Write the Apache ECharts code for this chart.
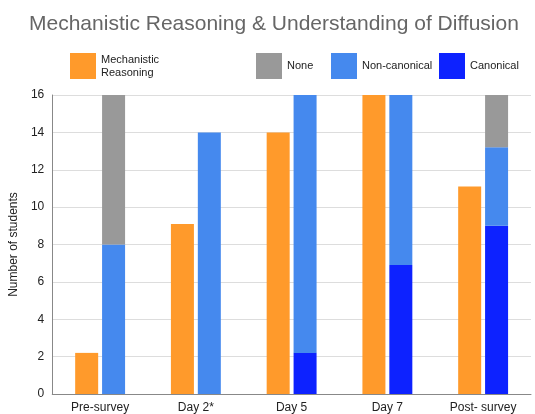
<!DOCTYPE html>
<html>
<head>
<meta charset="utf-8">
<script src="https://cdn.jsdelivr.net/npm/echarts@6/dist/echarts.min.js"></script>
<style>
  html, body { margin: 0; padding: 0; background: #fff; }
  #chart { width: 535px; height: 414px; }
</style>
</head>
<body>
<div id="chart"></div>
<script>
// data
var categories = ['Pre-survey', 'Day 2*', 'Day 5', 'Day 7', 'Post- survey'];
var mechanistic = [2.2, 9.1, 14, 16, 11.1];
var canonical = [0, 0, 2.2, 6.9, 9];
var nonCanonical = [8, 14, 13.8, 9.1, 4.2];
var none = [8, 0, 0, 0, 2.8];
var yTicks = [0, 2, 4, 6, 8, 10, 12, 14, 16];

var colors = {
  mech: '#FF9A2B',
  none: '#999999',
  noncan: '#4589EE',
  can: '#0D22FF'
};

var myChart = echarts.init(document.getElementById('chart'));

// one legend per item, they are not evenly spaced in the original
function legendAt(name, left, label) {
  return {
    data: [name],
    left: left,
    top: 53,
    itemWidth: 26,
    itemHeight: 26,
    icon: 'rect',
    selectedMode: false,
    padding: 0,
    textStyle: { fontFamily: 'Liberation Sans', fontSize: 11, color: '#222', lineHeight: 13 },
    formatter: function () { return label; }
  };
}

myChart.setOption({
  animation: false,
  title: {
    text: 'Mechanistic Reasoning & Understanding of Diffusion',
    left: 24,
    top: 9,
    padding: [5, 5],
    textStyle: { fontFamily: 'Liberation Sans', fontSize: 21, fontWeight: 'normal', color: '#666' }
  },
  legend: [
    legendAt('Mechanistic Reasoning', 70, 'Mechanistic\nReasoning'),
    legendAt('None', 256, 'None'),
    legendAt('Non-canonical', 331, 'Non-canonical'),
    legendAt('Canonical', 439, 'Canonical')
  ],
  grid: { left: 51, right: 4, top: 95, bottom: 19 },
  xAxis: {
    type: 'category',
    data: categories,
    axisLine: { lineStyle: { color: '#888', width: 1 } },
    axisTick: { show: false },
    axisLabel: { fontFamily: 'Liberation Sans', fontSize: 12, color: '#222', margin: 8 }
  },
  yAxis: {
    type: 'value',
    min: yTicks[0],
    max: yTicks[yTicks.length - 1],
    interval: 2,
    name: 'Number of students',
    nameLocation: 'middle',
    nameGap: 30,
    nameTextStyle: { fontFamily: 'Liberation Sans', fontSize: 12, color: '#222' },
    axisLine: { show: true, lineStyle: { color: '#888', width: 1 } },
    axisTick: { show: false },
    axisLabel: { fontFamily: 'Liberation Sans', fontSize: 12, color: '#222', margin: 8 },
    splitLine: { lineStyle: { color: '#ddd', width: 1 } }
  },
  series: [
    {
      name: 'Mechanistic Reasoning', type: 'bar', stack: 'm',
      barWidth: 23, barGap: '17%',
      itemStyle: { color: colors.mech },
      data: mechanistic
    },
    {
      name: 'Canonical', type: 'bar', stack: 'u',
      barWidth: 23,
      itemStyle: { color: colors.can },
      data: canonical
    },
    {
      name: 'Non-canonical', type: 'bar', stack: 'u',
      barWidth: 23,
      itemStyle: { color: colors.noncan },
      data: nonCanonical
    },
    {
      name: 'None', type: 'bar', stack: 'u',
      barWidth: 23,
      itemStyle: { color: colors.none },
      data: none
    }
  ]
});
</script>
</body>
</html>
